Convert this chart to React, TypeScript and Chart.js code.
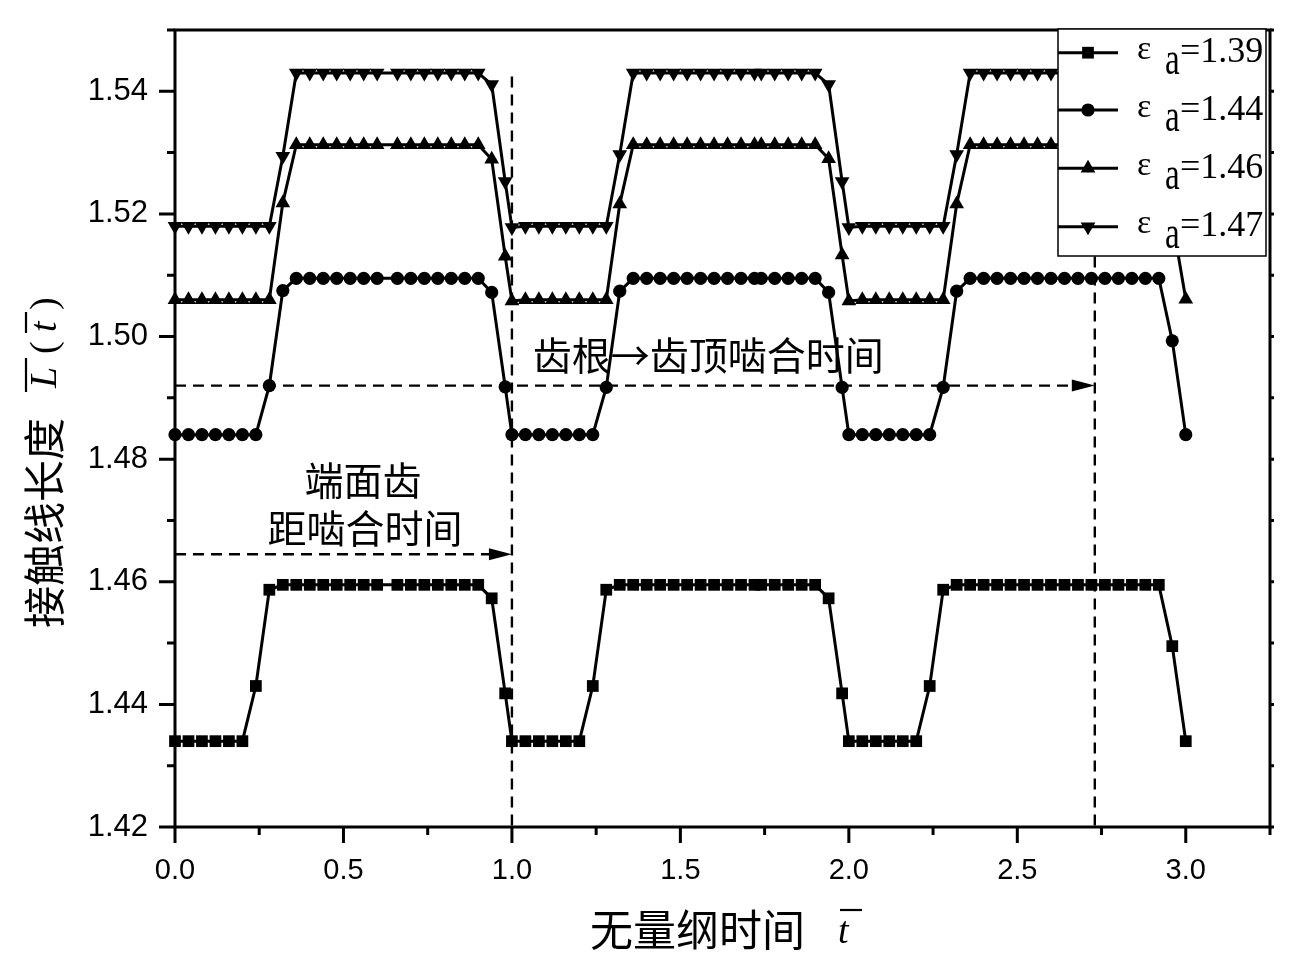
import React, { useEffect, useRef } from 'react';
import { Chart, registerables } from 'chart.js';

Chart.register(...registerables);

// ---------- data ----------
const T = [
  0, 0.04, 0.08, 0.12, 0.16, 0.2, 0.24, 0.28, 0.32, 0.36, 0.4, 0.44, 0.48, 0.52, 0.56, 0.6, 0.66, 0.7, 0.74, 0.78, 0.82, 0.86, 0.9, 0.94, 0.98, 1.0,
  1.04, 1.08, 1.12, 1.16, 1.2, 1.24, 1.28, 1.32, 1.36, 1.4, 1.44, 1.48, 1.52, 1.56, 1.6, 1.64, 1.68, 1.72, 1.74, 1.78, 1.82, 1.86, 1.9, 1.94, 1.98, 2.0,
  2.04, 2.08, 2.12, 2.16, 2.2, 2.24, 2.28, 2.32, 2.36, 2.4, 2.44, 2.48, 2.52, 2.56, 2.6, 2.64, 2.68, 2.72, 2.76, 2.8, 2.84, 2.88, 2.92, 2.96, 3.0,
];

const S139 = [
  1.434, 1.434, 1.434, 1.434, 1.434, 1.434, 1.443, 1.4587,
  1.4595, 1.4595, 1.4595, 1.4595, 1.4595, 1.4595, 1.4595, 1.4595, 1.4595, 1.4595, 1.4595, 1.4595, 1.4595, 1.4595, 1.4595,
  1.4573, 1.4418, 1.434,
  1.434, 1.434, 1.434, 1.434, 1.434, 1.443, 1.4587,
  1.4595, 1.4595, 1.4595, 1.4595, 1.4595, 1.4595, 1.4595, 1.4595, 1.4595, 1.4595, 1.4595, 1.4595, 1.4595, 1.4595, 1.4595, 1.4595,
  1.4573, 1.4418, 1.434,
  1.434, 1.434, 1.434, 1.434, 1.434, 1.443, 1.4587,
  1.4595, 1.4595, 1.4595, 1.4595, 1.4595, 1.4595, 1.4595, 1.4595, 1.4595, 1.4595, 1.4595, 1.4595, 1.4595, 1.4595, 1.4595, 1.4595,
  1.4495, 1.434,
];

const S144 = [
  1.484, 1.484, 1.484, 1.484, 1.484, 1.484, 1.484, 1.492, 1.5075,
  1.5095, 1.5095, 1.5095, 1.5095, 1.5095, 1.5095, 1.5095, 1.5095, 1.5095, 1.5095, 1.5095, 1.5095, 1.5095, 1.5095,
  1.5072, 1.4918, 1.484,
  1.484, 1.484, 1.484, 1.484, 1.484, 1.484, 1.4917, 1.5074,
  1.5095, 1.5095, 1.5095, 1.5095, 1.5095, 1.5095, 1.5095, 1.5095, 1.5095, 1.5095, 1.5095, 1.5095, 1.5095, 1.5095, 1.5095,
  1.5072, 1.4917, 1.484,
  1.484, 1.484, 1.484, 1.484, 1.484, 1.484, 1.4917, 1.5074,
  1.5095, 1.5095, 1.5095, 1.5095, 1.5095, 1.5095, 1.5095, 1.5095, 1.5095, 1.5095, 1.5095, 1.5095, 1.5095, 1.5095, 1.5095,
  1.4993, 1.484,
];

const S146 = [
  1.506, 1.506, 1.506, 1.506, 1.506, 1.506, 1.506, 1.506, 1.5218,
  1.5313, 1.5313, 1.5313, 1.5313, 1.5313, 1.5313, 1.5313, 1.5313, 1.5313, 1.5313, 1.5313, 1.5313, 1.5313, 1.5313,
  1.5289, 1.5131, 1.5058,
  1.506, 1.506, 1.506, 1.506, 1.506, 1.506, 1.506, 1.5216,
  1.5313, 1.5313, 1.5313, 1.5313, 1.5313, 1.5313, 1.5313, 1.5313, 1.5313, 1.5313, 1.5313, 1.5313, 1.5313, 1.5313, 1.5313,
  1.529, 1.5133, 1.5058,
  1.506, 1.506, 1.506, 1.506, 1.506, 1.506, 1.506, 1.5216,
  1.5313, 1.5313, 1.5313, 1.5313, 1.5313, 1.5313, 1.5313, 1.5313, 1.5313, 1.5313, 1.5313, 1.5313, 1.5313, 1.5313, 1.5313,
  1.519, 1.5061,
];

const S147 = [
  1.518, 1.518, 1.518, 1.518, 1.518, 1.518, 1.518, 1.518, 1.5294,
  1.543, 1.543, 1.543, 1.543, 1.543, 1.543, 1.543, 1.543, 1.543, 1.543, 1.543, 1.543, 1.543, 1.543,
  1.5411, 1.5253, 1.5178,
  1.518, 1.518, 1.518, 1.518, 1.518, 1.518, 1.518, 1.5297,
  1.543, 1.543, 1.543, 1.543, 1.543, 1.543, 1.543, 1.543, 1.543, 1.543, 1.543, 1.543, 1.543, 1.543, 1.543,
  1.5411, 1.5253, 1.5178,
  1.518, 1.518, 1.518, 1.518, 1.518, 1.518, 1.518, 1.5297,
  1.543, 1.543, 1.543, 1.543, 1.543, 1.543, 1.543, 1.543, 1.543, 1.543, 1.543, 1.543, 1.543, 1.543, 1.543,
  1.532, 1.518,
];

const SERIES_VALUES = [S139, S144, S146, S147];
const SERIES_LABELS = ['=1.39', '=1.44', '=1.46', '=1.47'];

const X_TICKS = [0, 0.5, 1.0, 1.5, 2.0, 2.5, 3.0];
const X_MINOR = [0.25, 0.75, 1.25, 1.75, 2.25, 2.75, 3.25];
const Y_TICKS = [1.42, 1.44, 1.46, 1.48, 1.5, 1.52, 1.54];
const Y_MINOR = [1.43, 1.45, 1.47, 1.49, 1.51, 1.53, 1.55];
const RIGHT_TICKS = [1.42, 1.43, 1.44, 1.45, 1.46, 1.47, 1.48, 1.49, 1.5, 1.51, 1.52, 1.53, 1.54, 1.55];

// annotation values (data units)
const V_LINES = [1.0, 2.73];
const V_LINE_TOP = 1.5424;
const ARROWS = [
  { y: 1.492, to: 2.73 },
  { y: 1.4645, to: 1.0 },
];
const NOTE_TOP = { text: '齿根→齿顶啮合时间', x: 1.062, y: 1.4969 };
const NOTE_L1 = { text: '端面齿', x: 0.558, y: 1.4765 };
const NOTE_L2 = { text: '距啮合时间', x: 0.564, y: 1.4687 };
const X_TITLE = '无量纲时间';
const Y_TITLE = '接触线长度';

// ---------- styles ----------
const CJK = '"Noto Sans CJK SC", "Noto Sans CJK JP", sans-serif';
const SERIF = '"Liberation Serif", "DejaVu Serif", serif';
const SANS = '"Liberation Sans", Arial, sans-serif';
const MARKERS = [
  { style: 'rect', radius: 8.3, rotation: 0 },
  { style: 'circle', radius: 6.6, rotation: 0 },
  { style: 'triangle', radius: 8.5, rotation: 0 },
  { style: 'triangle', radius: 8.5, rotation: 180 },
];

function drawMarker(ctx: CanvasRenderingContext2D, idx: number, x: number, y: number) {
  const m = MARKERS[idx];
  ctx.beginPath();
  if (m.style === 'rect') {
    const s = m.radius * Math.SQRT1_2;
    ctx.rect(x - s, y - s, 2 * s, 2 * s);
  } else if (m.style === 'circle') {
    ctx.arc(x, y, m.radius, 0, Math.PI * 2);
  } else {
    const r = m.radius;
    const d = m.rotation === 180 ? -1 : 1;
    ctx.moveTo(x, y - d * r);
    ctx.lineTo(x + 0.866 * r, y + d * 0.5 * r);
    ctx.lineTo(x - 0.866 * r, y + d * 0.5 * r);
    ctx.closePath();
  }
  ctx.fill();
}

const annotationPlugin = {
  id: 'annotations',
  beforeDatasetsDraw(chart: any) {
    const ctx: CanvasRenderingContext2D = chart.ctx;
    const xs = chart.scales.x;
    const ys = chart.scales.y;
    ctx.save();
    ctx.strokeStyle = '#000';
    ctx.fillStyle = '#000';
    ctx.lineWidth = 2.4;
    ctx.setLineDash([11, 7]);
    V_LINES.forEach((v) => {
      const px = xs.getPixelForValue(v);
      ctx.beginPath();
      ctx.moveTo(px, ys.getPixelForValue(V_LINE_TOP));
      ctx.lineTo(px, ys.getPixelForValue(1.42));
      ctx.stroke();
    });
    ARROWS.forEach((a) => {
      const py = ys.getPixelForValue(a.y);
      const x0 = xs.getPixelForValue(0);
      const x1 = xs.getPixelForValue(a.to);
      ctx.setLineDash([11, 7]);
      ctx.beginPath();
      ctx.moveTo(x0, py);
      ctx.lineTo(x1 - 20, py);
      ctx.stroke();
      ctx.setLineDash([]);
      ctx.beginPath();
      ctx.moveTo(x1, py);
      ctx.lineTo(x1 - 23, py - 6);
      ctx.lineTo(x1 - 23, py + 6);
      ctx.closePath();
      ctx.fill();
    });
    ctx.setLineDash([]);
    ctx.font = `39px ${CJK}`;
    ctx.textBaseline = 'middle';
    ctx.textAlign = 'left';
    ctx.fillText(NOTE_TOP.text, xs.getPixelForValue(NOTE_TOP.x), ys.getPixelForValue(NOTE_TOP.y));
    ctx.textAlign = 'center';
    ctx.fillText(NOTE_L1.text, xs.getPixelForValue(NOTE_L1.x), ys.getPixelForValue(NOTE_L1.y));
    ctx.fillText(NOTE_L2.text, xs.getPixelForValue(NOTE_L2.x), ys.getPixelForValue(NOTE_L2.y));
    ctx.restore();
  },
  afterDatasetsDraw(chart: any) {
    const ctx: CanvasRenderingContext2D = chart.ctx;
    const xs = chart.scales.x;
    const ys = chart.scales.y;
    const { left, right, top, bottom } = chart.chartArea;
    ctx.save();
    ctx.strokeStyle = '#000';
    ctx.fillStyle = '#000';
    ctx.lineWidth = 3;
    ctx.setLineDash([]);
    // frame
    ctx.strokeRect(left, top, right - left, bottom - top);
    // ticks
    ctx.beginPath();
    Y_TICKS.forEach((v) => {
      const p = ys.getPixelForValue(v);
      ctx.moveTo(left - 16, p);
      ctx.lineTo(left, p);
    });
    Y_MINOR.forEach((v) => {
      const p = ys.getPixelForValue(v);
      ctx.moveTo(left - 8, p);
      ctx.lineTo(left, p);
    });
    X_TICKS.forEach((v) => {
      const p = xs.getPixelForValue(v);
      ctx.moveTo(p, bottom);
      ctx.lineTo(p, bottom + 16);
    });
    X_MINOR.forEach((v) => {
      const p = xs.getPixelForValue(v);
      ctx.moveTo(p, bottom);
      ctx.lineTo(p, bottom + 8);
    });
    RIGHT_TICKS.forEach((v) => {
      const p = ys.getPixelForValue(v);
      ctx.moveTo(right, p);
      ctx.lineTo(right + 4, p);
    });
    ctx.stroke();

    // legend
    const bx = 1058, by = 29, bw = 208, bh = 227;
    ctx.fillStyle = '#fff';
    ctx.fillRect(bx, by, bw, bh);
    ctx.lineWidth = 1.5;
    ctx.strokeRect(bx, by, bw, bh);
    ctx.fillStyle = '#000';
    const rows = [52.7, 110, 168.3, 226.7];
    rows.forEach((ry, i) => {
      ctx.lineWidth = 3;
      ctx.beginPath();
      ctx.moveTo(bx, ry);
      ctx.lineTo(bx + 60, ry);
      ctx.stroke();
      drawMarker(ctx, i, bx + 30, ry);
      ctx.textAlign = 'left';
      ctx.textBaseline = 'alphabetic';
      ctx.font = `34px ${SERIF}`;
      ctx.fillText('ε', 1137, ry + 6.6);
      ctx.save();
      ctx.translate(1165, ry + 21);
      ctx.scale(0.72, 1);
      ctx.font = `46px ${SERIF}`;
      ctx.fillText('a', 0, 0);
      ctx.restore();
      ctx.font = `36px ${SERIF}`;
      ctx.fillText(SERIES_LABELS[i], 1180, ry + 9.5);
    });
    ctx.restore();
  },
  afterDraw(chart: any) {
    const ctx: CanvasRenderingContext2D = chart.ctx;
    ctx.save();
    ctx.fillStyle = '#000';
    ctx.strokeStyle = '#000';
    ctx.lineWidth = 2.2;
    // x title
    ctx.font = `43px ${CJK}`;
    ctx.textBaseline = 'middle';
    ctx.textAlign = 'left';
    ctx.fillText(X_TITLE, 590, 930);
    ctx.font = `italic 38px ${SERIF}`;
    ctx.textBaseline = 'alphabetic';
    ctx.fillText('t', 838, 943);
    ctx.beginPath();
    ctx.moveTo(840, 910);
    ctx.lineTo(862, 910);
    ctx.stroke();
    // y title (rotated)
    ctx.translate(44, 628);
    ctx.rotate(-Math.PI / 2);
    ctx.font = `42px ${CJK}`;
    ctx.textBaseline = 'middle';
    ctx.fillText(Y_TITLE, 0, 0);
    ctx.textBaseline = 'alphabetic';
    ctx.font = `italic 38px ${SERIF}`;
    ctx.fillText('L', 240, 12);
    ctx.font = `38px ${SERIF}`;
    ctx.fillText('(', 274, 12);
    ctx.font = `italic 38px ${SERIF}`;
    ctx.fillText('t', 296, 12);
    ctx.font = `38px ${SERIF}`;
    ctx.fillText(')', 318, 12);
    ctx.beginPath();
    ctx.moveTo(236, -18);
    ctx.lineTo(270, -18);
    ctx.moveTo(295, -18);
    ctx.lineTo(316, -18);
    ctx.stroke();
    ctx.restore();
  },
};

export default function App() {
  const canvasRef = useRef<HTMLCanvasElement>(null);

  useEffect(() => {
    const canvas = canvasRef.current;
    if (!canvas) return;
    const datasets = SERIES_VALUES.map((vals, i) => ({
      label: 'ε a' + SERIES_LABELS[i],
      data: T.map((t, k) => ({ x: t, y: vals[k] })),
      borderColor: '#000',
      backgroundColor: '#000',
      borderWidth: 3,
      pointStyle: MARKERS[i].style,
      pointRadius: MARKERS[i].radius,
      pointRotation: MARKERS[i].rotation,
      pointBorderWidth: 0,
      pointBackgroundColor: '#000',
      tension: 0,
      clip: false as any,
    }));
    const chart = new Chart(canvas, {
      type: 'line',
      data: { datasets },
      plugins: [annotationPlugin],
      options: {
        animation: false,
        responsive: false,
        devicePixelRatio: 1,
        events: [],
        layout: { padding: { top: 30, right: 29, left: 0, bottom: 0 } },
        plugins: { legend: { display: false }, tooltip: { enabled: false }, title: { display: false } },
        scales: {
          x: {
            type: 'linear',
            position: 'bottom',
            min: 0,
            max: 3.25,
            afterBuildTicks: (s: any) => {
              s.ticks = X_TICKS.map((v) => ({ value: v }));
            },
            afterFit: (s: any) => {
              s.height = 129;
              s.paddingLeft = 0;
              s.paddingRight = 0;
            },
            grid: { display: false, drawTicks: false },
            border: { display: false },
            ticks: {
              autoSkip: false,
              maxRotation: 0,
              padding: 27,
              color: '#000',
              font: { family: SANS, size: 29 },
              callback: (v: any) => Number(v).toFixed(1),
            },
          },
          y: {
            type: 'linear',
            position: 'left',
            min: 1.42,
            max: 1.55,
            afterBuildTicks: (s: any) => {
              s.ticks = Y_TICKS.map((v) => ({ value: v }));
            },
            afterFit: (s: any) => {
              s.width = 175;
              s.paddingTop = 0;
              s.paddingBottom = 0;
            },
            grid: { display: false, drawTicks: false },
            border: { display: false },
            ticks: {
              autoSkip: false,
              padding: 27,
              color: '#000',
              font: { family: SANS, size: 31 },
              callback: (v: any) => Number(v).toFixed(2),
            },
          },
        },
      } as any,
    });
    let alive = true;
    const fonts: any = (document as any).fonts;
    if (fonts && fonts.load) {
      Promise.all([
        fonts.load(`38px ${CJK}`, '齿根啮合时间'),
        fonts.load(`30px ${SERIF}`, 'εa=1.39'),
        fonts.load(`italic 30px ${SERIF}`, 'Lt'),
        fonts.load(`27px ${SANS}`, '0.5'),
      ])
        .then(() => {
          if (alive) chart.update();
        })
        .catch(() => {});
    }
    return () => {
      alive = false;
      chart.destroy();
    };
  }, []);

  return (
    <div style={{ position: 'absolute', left: 0, top: 0, width: 1299, height: 956, background: '#fff' }}>
      <canvas ref={canvasRef} width={1299} height={956} style={{ display: 'block', width: 1299, height: 956 }} />
    </div>
  );
}
